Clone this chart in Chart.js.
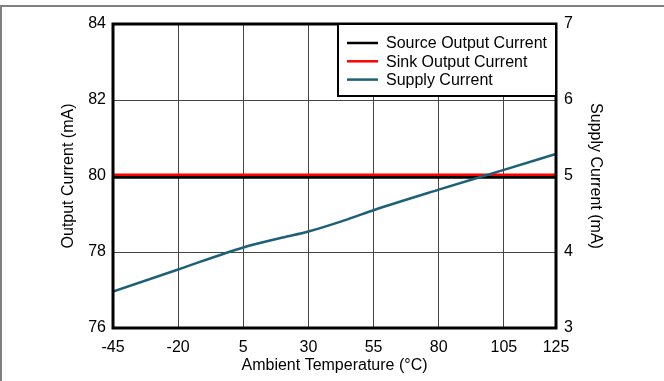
<!DOCTYPE html>
<html>

<head>
  <title>Output and Supply Current vs Ambient Temperature</title>
  <script src="https://cdn.jsdelivr.net/npm/chart.js"></script>
  <style>
    body { margin: 0; background: #fff; }
  </style>
</head>

<body>
  <canvas id="myChart" width="664" height="381"></canvas>
  <script>
    // values
    const temps = [-45, -20, 5, 20, 30, 45, 55, 80, 105, 125];
    const sourceOut = [79.97, 79.97, 79.97, 79.97, 79.97, 79.97, 79.97, 79.97, 79.97, 79.97];
    const sinkOut = [80.03, 80.03, 80.03, 80.03, 80.03, 80.03, 80.03, 80.03, 80.03, 80.03];
    const supplyCur = [3.48, 3.77, 4.06, 4.19, 4.27, 4.43, 4.55, 4.82, 5.08, 5.29];
    const xTicks = [-45, -20, 5, 30, 55, 80, 105, 125];
    const labels = ['Source Output Current', 'Sink Output Current', 'Supply Current'];

    const pts = arr => temps.map((t, i) => ({ x: t, y: arr[i] }));

    Chart.defaults.font.family = '"Liberation Sans", Arial, sans-serif';
    Chart.defaults.font.size = 16;
    Chart.defaults.color = '#000';

    // legend box, plot frame and page border
    const framePlugin = {
      id: 'frame',
      afterDatasetsDraw(chart) {
        const { ctx, chartArea: a } = chart;
        ctx.save();
        ctx.strokeStyle = '#000';
        ctx.lineWidth = 3;
        ctx.strokeRect(a.left, a.top, a.right - a.left, a.bottom - a.top);

        // legend
        const lx = 338, ly = a.top, lw = a.right - lx, lh = 72;
        ctx.fillStyle = '#fff';
        ctx.fillRect(lx, ly, lw, lh);
        ctx.lineWidth = 2;
        ctx.strokeRect(lx, ly, lw, lh);
        ctx.font = '16px "Liberation Sans", Arial, sans-serif';
        ctx.textBaseline = 'middle';
        ctx.fillStyle = '#000';
        chart.data.datasets.forEach((ds, i) => {
          const y = ly + 19 + i * 18.3;
          ctx.strokeStyle = ds.borderColor;
          ctx.lineWidth = 2.5;
          ctx.beginPath();
          ctx.moveTo(347, y);
          ctx.lineTo(378, y);
          ctx.stroke();
          ctx.fillText(ds.label, 386, y + 1);
        });

        // outer border of the picture
        ctx.strokeStyle = '#808080';
        ctx.lineWidth = 2;
        ctx.beginPath();
        ctx.moveTo(1, 381);
        ctx.lineTo(1, 6);
        ctx.lineTo(664, 6);
        ctx.stroke();
        ctx.restore();
      }
    };

    const ctx = document.getElementById('myChart').getContext('2d');
    new Chart(ctx, {
      type: 'line',
      data: {
        datasets: [{
          label: labels[0],
          data: pts(sourceOut),
          borderColor: '#000000',
          borderWidth: 3,
          pointRadius: 0,
          yAxisID: 'y',
          order: 3
        }, {
          label: labels[1],
          data: pts(sinkOut),
          borderColor: '#ff0000',
          borderWidth: 2.5,
          pointRadius: 0,
          yAxisID: 'y',
          order: 2
        }, {
          label: labels[2],
          data: pts(supplyCur),
          borderColor: '#1d6077',
          borderWidth: 2.5,
          pointRadius: 0,
          cubicInterpolationMode: 'monotone',
          yAxisID: 'y2',
          order: 1
        }]
      },
      options: {
        responsive: false,
        animation: false,
        devicePixelRatio: 1,
        layout: { padding: { top: 24 } },
        plugins: {
          legend: { display: false },
          tooltip: { enabled: false }
        },
        scales: {
          x: {
            type: 'linear',
            min: -45,
            max: 125,
            afterBuildTicks: s => { s.ticks = xTicks.map(v => ({ value: v })); },
            afterFit: s => { s.height = 53; },
            grid: { color: '#444', lineWidth: 1, drawTicks: false },
            border: { display: false },
            ticks: { padding: 10, autoSkip: false, maxRotation: 0 },
            title: {
              display: true,
              text: 'Ambient Temperature (°C)',
              padding: { top: 0, bottom: 6 }
            }
          },
          y: {
            position: 'left',
            min: 76,
            max: 84,
            afterFit: s => { s.width = 113; },
            grid: { color: '#444', lineWidth: 1, drawTicks: false },
            border: { display: false },
            ticks: { stepSize: 2, padding: 7 },
            title: {
              display: true,
              text: 'Output Current (mA)',
              padding: { top: 59, bottom: 0 }
            }
          },
          y2: {
            position: 'right',
            min: 3,
            max: 7,
            afterFit: s => { s.width = 108; },
            grid: { drawOnChartArea: false, drawTicks: false },
            border: { display: false },
            ticks: { stepSize: 1, padding: 8 },
            title: {
              display: true,
              text: 'Supply Current (mA)',
              padding: { top: 59, bottom: 0 }
            }
          }
        }
      },
      plugins: [framePlugin]
    });
  </script>
</body>

</html>
